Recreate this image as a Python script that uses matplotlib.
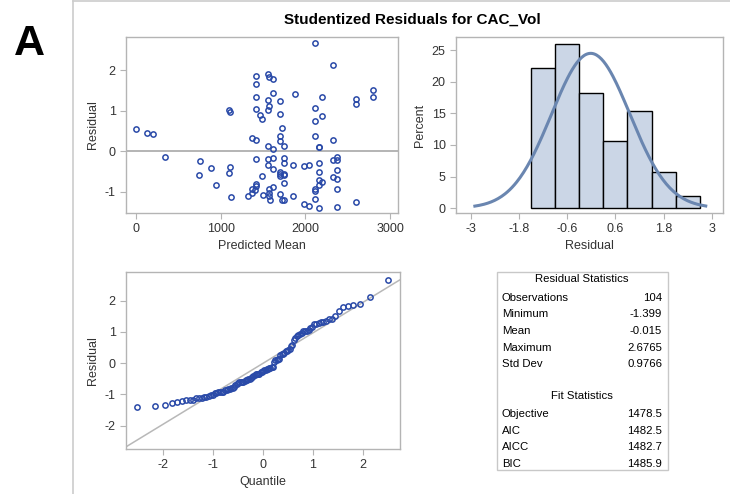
import numpy as np
import matplotlib
matplotlib.use("Agg")
import matplotlib.pyplot as plt
from matplotlib.patches import Rectangle
from statistics import NormalDist

plt.rcParams['font.family'] = ['Liberation Sans', 'DejaVu Sans']
plt.rcParams['axes.unicode_minus'] = False

# predicted mean / studentized residual pairs
pred_mean = [0, 134, 197, 346, 755, 739, 889, 948, 1100, 1110, 1110, 1100, 1125,
             1420, 1420, 1420, 1420, 1372, 1420, 1420, 1420, 1420, 1372, 1400, 1365, 1317,
             1468, 1491, 1491, 1500,
             1557, 1565, 1555, 1570, 1557, 1555, 1553, 1553, 1565, 1570, 1574, 1580,
             1616, 1616, 1616, 1616, 1616, 1616,
             1703, 1703, 1726, 1703, 1703, 1703, 1703, 1703, 1726, 1700,
             1750, 1750, 1750, 1750, 1750, 1750, 1750,
             1876, 1852, 1852,
             1986, 2045, 1986, 2045,
             2112, 2112, 2112, 2112, 2198, 2198, 2159, 2159, 2159, 2159, 2159, 2198, 2159,
             2112, 2112, 2112, 2159,
             2320, 2320, 2320, 2367, 2367, 2367, 2320, 2367, 2367, 2367,
             2603, 2603, 2603,
             2800, 2800]
residual = [0.54, 0.46, 0.43, -0.13, -0.24, -0.59, -0.41, -0.84, 1.02, 0.98, -0.39, -0.54, -1.13,
            1.87, 1.66, 1.33, 1.04, 0.33, 0.28, -0.19, -0.80, -0.86, -0.92, -0.96, -1.03, -1.11,
            0.89, 0.79, -0.61, -1.08,
            1.91, 1.83, 1.27, 1.12, 1.02, 0.12, -0.20, -0.34, -0.93, -1.03, -1.11, -1.21,
            1.79, 1.43, 0.05, -0.16, -0.44, -0.87,
            1.25, 0.92, 0.58, 0.38, 0.25, -0.52, -0.61, -1.06, -1.19, -0.57,
            0.12, -0.16, -0.29, -0.55, -0.59, -0.78, -1.19,
            1.41, -0.34, -1.10,
            -0.36, -0.34, -1.29, -1.34,
            2.6765, 1.07, 0.74, 0.38, 1.35, 0.87, 0.11, 0.10, -0.29, -0.52, -0.70, -0.75, -0.84,
            -0.93, -0.97, -1.18, -1.399,
            2.13, 0.28, -0.21, -0.13, -0.21, -0.47, -0.63, -0.67, -0.93, -1.37,
            1.28, 1.17, -1.26,
            1.51, 1.33]

hist_edges = [-1.5, -0.9, -0.3, 0.3, 0.9, 1.5, 2.1, 2.7]

res_stat_names = ["Observations", "Minimum", "Mean", "Maximum", "Std Dev"]
res_stat_values = ["104", "-1.399", "-0.015", "2.6765", "0.9766"]
fit_stat_names = ["Objective", "AIC", "AICC", "BIC"]
fit_stat_values = ["1478.5", "1482.5", "1482.7", "1485.9"]

res_mean = float(res_stat_values[2])
res_std = float(res_stat_values[4])

W, H = 730, 494
BLUE = '#2a4aa8'
FRAME = '#b4b4b4'
TXT = '#333333'


def rect(l, t, r, b):
    return [l / W, 1 - b / H, (r - l) / W, (b - t) / H]


def style(ax):
    for s in ax.spines.values():
        s.set_color(FRAME)
        s.set_linewidth(1.0)
    ax.tick_params(colors=FRAME, labelcolor=TXT, labelsize=9, length=4, width=0.8)


fig = plt.figure(figsize=(W / 100, H / 100), dpi=100)

# outer frame lines and panel letter
fig.add_artist(plt.Line2D([73 / W, 73 / W], [0, 1 - 1 / H], color='#cccccc', lw=1.2))
fig.add_artist(plt.Line2D([73 / W, 1], [1 - 1 / H, 1 - 1 / H], color='#cccccc', lw=1.2))
fig.text(29 / W, 1 - 44 / H, "A", fontsize=31, fontweight='bold', ha='center', va='center')
fig.text(412 / W, 1 - 20 / H, "Studentized Residuals for CAC_Vol", fontsize=11,
         fontweight='bold', ha='center', va='center', color='black')

x = np.array(pred_mean, dtype=float)
r = np.array(residual, dtype=float)

# residual vs predicted
ax1 = fig.add_axes(rect(126, 37, 398, 213))
style(ax1)
ax1.axhline(0, color='#a8a8a8', lw=1.2, zorder=1)
ax1.plot(x, r, 'o', mfc='none', mec=BLUE, ms=3.8, mew=1.1, zorder=2)
ax1.set_xlim(-118, 3093)
ax1.set_ylim(-1.52, 2.82)
ax1.set_xticks([0, 1000, 2000, 3000])
ax1.set_yticks([-1, 0, 1, 2])
ax1.set_xlabel("Predicted Mean", fontsize=9, color=TXT, labelpad=3)
ax1.set_ylabel("Residual", fontsize=9, color=TXT, labelpad=4)

# histogram with fitted normal
ax2 = fig.add_axes(rect(456, 37, 723, 213))
style(ax2)
ax2.hist(r, bins=hist_edges, weights=np.full(len(r), 100.0 / len(r)),
         color='#cbd6e6', edgecolor='black', linewidth=1.0, zorder=1)
xs = np.linspace(-2.9, 2.85, 200)
bw = hist_edges[1] - hist_edges[0]
ys = 100 * bw * np.array([NormalDist(res_mean, res_std).pdf(v) for v in xs])
ax2.plot(xs, ys, color='#6a86b0', lw=2.2, zorder=2)
ax2.set_xlim(-3.37, 3.28)
ax2.set_ylim(-0.78, 27.1)
ax2.set_xticks([-3, -1.8, -0.6, 0.6, 1.8, 3])
ax2.set_xticklabels(["-3", "-1.8", "-0.6", "0.6", "1.8", "3"])
ax2.set_yticks([0, 5, 10, 15, 20, 25])
ax2.set_xlabel("Residual", fontsize=9, color=TXT, labelpad=3)
ax2.set_ylabel("Percent", fontsize=9, color=TXT, labelpad=4)

# normal quantile plot
ax3 = fig.add_axes(rect(126, 272, 400, 449))
style(ax3)
n = len(r)
q = np.array([NormalDist().inv_cdf((i + 1 - 0.375) / (n + 0.25)) for i in range(n)])
ax3.plot([-2.73, 2.75], [res_mean + res_std * -2.73, res_mean + res_std * 2.75],
         color='#b8b8b8', lw=1.1, zorder=1)
ax3.plot(q, np.sort(r), 'o', mfc='none', mec=BLUE, ms=3.8, mew=1.1, zorder=2)
ax3.set_xlim(-2.73, 2.75)
ax3.set_ylim(-2.75, 2.92)
ax3.set_xticks([-2, -1, 0, 1, 2])
ax3.set_yticks([-2, -1, 0, 1, 2])
ax3.set_xlabel("Quantile", fontsize=9, color=TXT, labelpad=3)
ax3.set_ylabel("Residual", fontsize=9, color=TXT, labelpad=4)

# statistics table
fig.add_artist(Rectangle((497 / W, 1 - 470 / H), (668 - 497) / W, (470 - 272) / H,
                         transform=fig.transFigure, fill=False, edgecolor='#c8c8c8', lw=1.0))
fs = 8.2
fig.text(582 / W, 1 - 279 / H, "Residual Statistics", fontsize=fs, ha='center', va='center')
for i, (nm, v) in enumerate(zip(res_stat_names, res_stat_values)):
    yy = 1 - (297.7 + i * 16.65) / H
    fig.text(502 / W, yy, nm, fontsize=fs, ha='left', va='center')
    fig.text(662 / W, yy, v, fontsize=fs, ha='right', va='center')
fig.text(582 / W, 1 - 396 / H, "Fit Statistics", fontsize=fs, ha='center', va='center')
for i, (nm, v) in enumerate(zip(fit_stat_names, fit_stat_values)):
    yy = 1 - (414.3 + i * 16.5) / H
    fig.text(502 / W, yy, nm, fontsize=fs, ha='left', va='center')
    fig.text(662 / W, yy, v, fontsize=fs, ha='right', va='center')

fig.savefig("out.png", dpi=100)
